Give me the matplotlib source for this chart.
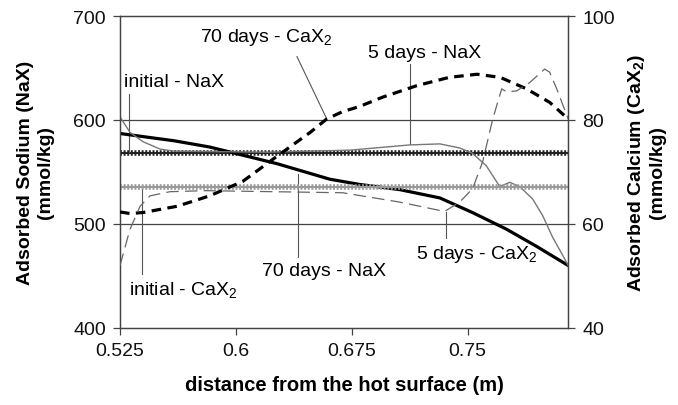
import matplotlib
matplotlib.use('Agg')
import matplotlib.pyplot as plt

plt.rcParams['font.family'] = ['Liberation Sans', 'DejaVu Sans']
plt.rcParams['mathtext.fontset'] = 'custom'
plt.rcParams['mathtext.rm'] = 'Liberation Sans'
plt.rcParams['mathtext.bf'] = 'Liberation Sans:bold'
plt.rcParams['mathtext.default'] = 'regular'

# distance (m) and values
x_init = [0.525, 0.815]
nax_init = [568, 568]
cax_init = [67.1, 67.1]

x_nax70 = [0.525, 0.56, 0.583, 0.6265, 0.6608, 0.68, 0.706, 0.732, 0.753, 0.775, 0.795, 0.815]
nax70 = [587, 580, 574, 558, 543, 538, 533, 525, 511, 495, 478, 460]

x_cax70 = [0.525, 0.5315, 0.54, 0.562, 0.583, 0.6045, 0.6265, 0.648, 0.6588, 0.669,
           0.680, 0.695, 0.717, 0.738, 0.756, 0.771, 0.788, 0.803, 0.815]
cax70 = [62.3, 62.0, 62.2, 63.4, 65.4, 68.2, 73.0, 77.6, 80.2, 81.6,
         82.6, 84.4, 86.6, 88.2, 88.8, 88.2, 86.0, 83.4, 80.2]

x_nax5 = [0.525, 0.5315, 0.54, 0.551, 0.56, 0.62, 0.674, 0.7125, 0.732, 0.745,
          0.753, 0.762, 0.7707, 0.7772, 0.7836, 0.792, 0.7985, 0.805, 0.8114, 0.815]
nax5 = [603, 588, 579, 572, 570, 569, 571, 576, 577, 573,
        568, 556, 536, 540, 536, 524, 508, 487, 470, 460]

x_cax5 = [0.525, 0.5315, 0.538, 0.5444, 0.5573, 0.58, 0.669, 0.706, 0.735, 0.7448,
          0.7532, 0.7597, 0.7662, 0.772, 0.7752, 0.7817, 0.7901, 0.7998, 0.803, 0.8076, 0.815]
cax5 = [52, 59, 63.4, 65.4, 66.2, 66.4, 66.0, 64.2, 62.4, 64.2,
        66.8, 72, 80.2, 86, 85.4, 85.6, 87.2, 89.8, 89.2, 86, 80.2]

fig = plt.figure(figsize=(6.78, 4.06), dpi=100)
ax = fig.add_axes([0.177, 0.190, 0.661, 0.768])
ax2 = ax.twinx()

for v in [500, 600]:
    ax.axhline(v, color='#444444', lw=0.9, zorder=1)

# initial profiles (hatched look)
ax.plot(x_init, nax_init, color='#222222', lw=1.5, zorder=2)
ax.plot(x_init, nax_init, color='#222222', lw=4, ls=(0, (0.35, 0.3)), zorder=2)
ax2.plot(x_init, cax_init, color='#999999', lw=1.5, zorder=2)
ax2.plot(x_init, cax_init, color='#999999', lw=4, ls=(0, (0.35, 0.3)), zorder=2)

ax.plot(x_nax70, nax70, color='black', lw=2.3, zorder=3)
ax.plot(x_nax5, nax5, color='#777777', lw=1.0, zorder=3)
ax2.plot(x_cax70, cax70, color='black', lw=2.3, ls=(0, (3, 2)), zorder=3)
ax2.plot(x_cax5, cax5, color='#666666', lw=0.9, ls=(0, (10, 5)), zorder=3)

ax.set_xlim(0.525, 0.815)
ax.set_ylim(400, 700)
ax2.set_ylim(40, 100)
ax.set_xticks([0.525, 0.6, 0.675, 0.75])
ax.set_xticklabels(['0.525', '0.6', '0.675', '0.75'])
ax.set_yticks([400, 500, 600, 700])
ax2.set_yticks([40, 60, 80, 100])
for a in (ax, ax2):
    a.tick_params(labelsize=14, length=5, width=0.9, color='#444444', labelcolor='#111111', pad=5)
    for s in a.spines.values():
        s.set_color('#444444')
        s.set_linewidth(0.9)

ax.set_xlabel('distance from the hot surface (m)', fontsize=14.5, fontweight='bold', labelpad=12)
ax.set_ylabel('Adsorbed Sodium (NaX)\n(mmol/kg)', fontsize=14, fontweight='bold', labelpad=14)
ax2.set_ylabel('Adsorbed Calcium (CaX$_2$)\n(mmol/kg)', fontsize=14, fontweight='bold', labelpad=8)

# labels with pointer lines (NaX axis coordinates)
lc = '#555555'
fs = 14
ax.plot([0.5308, 0.5308], [625, 569], color=lc, lw=0.8)
ax.text(0.5278, 637, 'initial - NaX', fontsize=fs, va='center', ha='left')
ax.plot([0.6395, 0.6588], [661, 601], color=lc, lw=0.8)
ax.text(0.577, 680, '70 days - CaX$_2$', fontsize=fs, va='center', ha='left')
ax.plot([0.7125, 0.7125], [654, 577], color=lc, lw=0.8)
ax.text(0.6855, 665, '5 days - NaX', fontsize=fs, va='center', ha='left')
ax.plot([0.5392, 0.5392], [535, 452], color=lc, lw=0.8)
ax.text(0.531, 437, 'initial - CaX$_2$', fontsize=fs, va='center', ha='left')
ax.plot([0.6401, 0.6401], [548, 468], color=lc, lw=0.8)
ax.text(0.617, 455, '70 days - NaX', fontsize=fs, va='center', ha='left')
ax.plot([0.7358, 0.7358], [511, 486], color=lc, lw=0.8)
ax.text(0.7165, 472, '5 days - CaX$_2$', fontsize=fs, va='center', ha='left')

fig.savefig('out.png', dpi=100)
